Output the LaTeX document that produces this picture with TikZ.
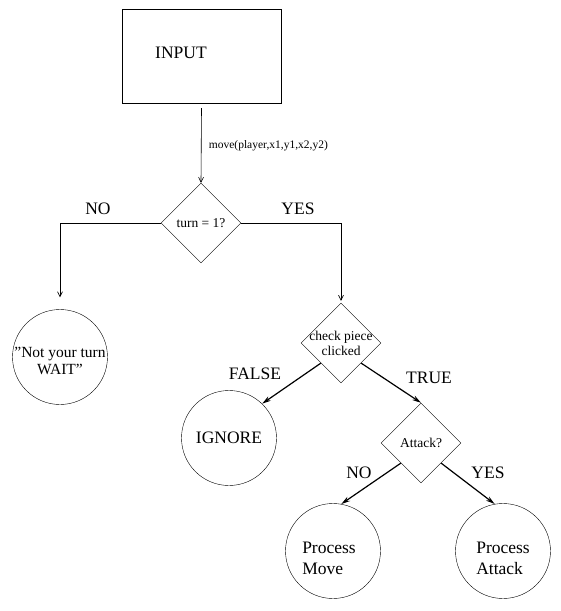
\documentclass[tikz,border=0pt]{standalone}
\usepackage{fontspec}
\setmainfont{Liberation Serif}
\usetikzlibrary{shapes.geometric}
\usetikzlibrary{arrows.meta}
\newcommand{\bigtxt}{\fontsize{17.5}{21}\selectfont}
\newcommand{\midtxt}{\fontsize{15.5}{17}\selectfont}
\newcommand{\smalltxt}{\fontsize{13.5}{15}\selectfont}
\newcommand{\tinytxt}{\fontsize{11.5}{13}\selectfont}
\tikzset{
  decision/.style={diamond, draw, aspect=1, minimum size=80pt, inner sep=0pt, font=\smalltxt},
  endstate/.style={circle, draw, minimum size=95pt, inner sep=0pt, font=\bigtxt},
  flow/.style={-{Straight Barb[length=5pt,width=5pt]}, line width=0.6pt},
  branch/.style={-{Stealth[length=9pt,width=5pt]}, line width=1.2pt},
  answer/.style={font=\bigtxt}
}

\begin{document}
\begin{tikzpicture}[x=1pt, y=-1pt]
        \useasboundingbox (0,0) rectangle (561,611);
        % input box
        \node[draw, minimum width=159pt, minimum height=94pt] (input) at (201.5,56) {};
        \node[answer] (inputtxt) at (181,53) {INPUT};
        % first test
        \node[decision] (turn) at (201,223) {turn = 1?};
        \draw[flow] ([yshift=-5pt]input.south) -- (turn.north)
            node[midway, right=4pt, font=\tinytxt] (call) {move(player,x1,y1,x2,y2)};
        % not your turn
        \node[endstate, label={[font=\midtxt, align=center, yshift=-4pt]center:"Not your turn\\WAIT"}] (wait) at (60,357) {};
        \draw[flow, shorten >=12pt] (turn.west) -| (wait.north);
        \node[answer] (no1) at (98,209) {NO};
        % check piece
        \node[decision, label={[font=\smalltxt, align=center]center:check piece\\clicked}] (check) at (341,343) {};
        \draw[flow, shorten >=2pt] (turn.east) -| (check.north);
        \node[answer] (yes1) at (298,209) {YES};
        % false / true
        \node[endstate] (ignore) at (229,438) {IGNORE};
        \node[decision] (attack) at (421,443) {Attack?};
        \draw[branch] (check.south west) -- (ignore.46);
        \draw[branch] (check.south east) -- (attack.north);
        \node[answer] (false) at (255,374) {FALSE};
        \node[answer] (true) at (429,378) {TRUE};
        % move or attack
        \node[endstate, label={[font=\bigtxt, align=left, xshift=-4pt, yshift=-7pt]center:Process\\Move}] (pmove) at (333,551) {};
        \node[endstate, label={[font=\bigtxt, align=left, yshift=-7pt]center:Process\\Attack}] (pattack) at (503,551) {};
        \draw[branch] (attack.south west) -- (pmove.80);
        \draw[branch] (attack.south east) -- (pattack.100);
        \node[answer] (no2) at (359,473) {NO};
        \node[answer] (yes2) at (488,473) {YES};
\end{tikzpicture}
\end{document}
